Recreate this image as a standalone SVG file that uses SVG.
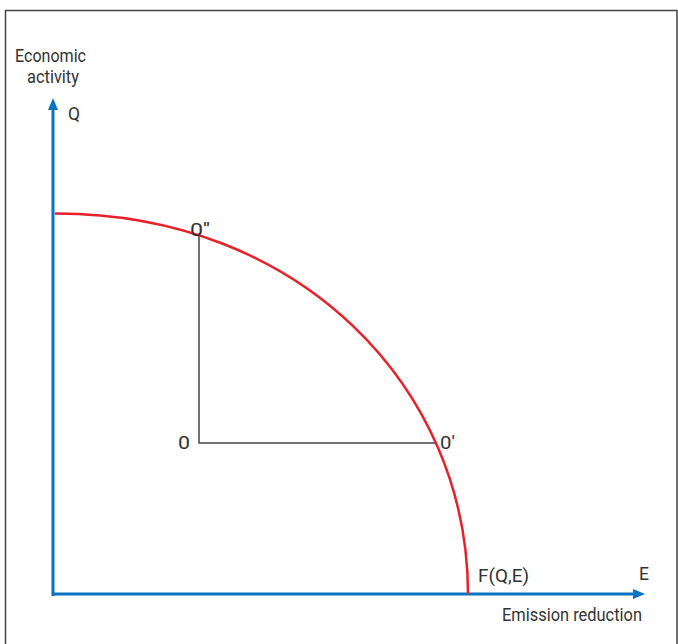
<svg xmlns="http://www.w3.org/2000/svg" width="678" height="644" viewBox="0 0 678 644">
<style>
text{font-family:Roboto,"Liberation Sans",sans-serif;font-size:19px;fill:#333}
.ax{stroke:#0a73c2;stroke-width:3;fill:none}
.thin{stroke:#444;stroke-width:1.5;fill:none}
</style>
<defs>
<marker id="arr" markerWidth="10" markerHeight="10" refX="0" refY="5" orient="auto" markerUnits="userSpaceOnUse" viewBox="0 0 10 10" overflow="visible">
<path d="M0,0 L12,5 L0,10 z" fill="#0a73c2"/>
</marker>
</defs>
<path class="thin" d="M5.5,644 V10.5 H677 V644" stroke="#555"/>
<g id="connectors">
<path id="yaxis" class="ax" d="M53,596 V110" marker-end="url(#arr)"/>
<path id="xaxis" class="ax" d="M52,594 H633" marker-end="url(#arr)"/>
<path id="rect" class="thin" d="M199,233 V443 H437"/>
<path id="frontier" d="M55,213.5 C300,213 468,388 468,594" stroke="#e8202a" stroke-width="2.5" fill="none"/>
</g>
<g id="labels">
<text x="15" y="62" textLength="71" lengthAdjust="spacingAndGlyphs">Economic</text>
<text x="27" y="83" textLength="52" lengthAdjust="spacingAndGlyphs">activity</text>
<text x="68" y="120" textLength="12" lengthAdjust="spacingAndGlyphs">Q</text>
<text x="190" y="236" textLength="20" lengthAdjust="spacingAndGlyphs">0''</text>
<text x="178" y="449" textLength="12" lengthAdjust="spacingAndGlyphs">0</text>
<text x="440" y="449" textLength="15" lengthAdjust="spacingAndGlyphs">0'</text>
<text x="478" y="582" textLength="51" lengthAdjust="spacingAndGlyphs">F(Q,E)</text>
<text x="639" y="580" textLength="10" lengthAdjust="spacingAndGlyphs">E</text>
<text x="502" y="621" textLength="140" lengthAdjust="spacingAndGlyphs">Emission reduction</text>
</g>
</svg>
